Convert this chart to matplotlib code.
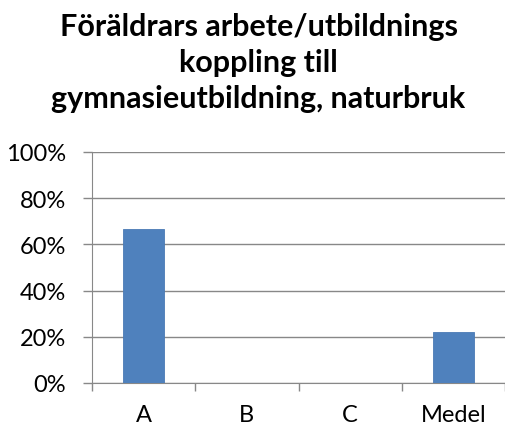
import matplotlib
matplotlib.use("Agg")
import matplotlib.pyplot as plt
from matplotlib.ticker import FuncFormatter, MultipleLocator

categories = ["A", "B", "C", "Medel"]
values = [0.667, 0.0, 0.0, 0.222]
title = "Föräldrars arbete/utbildnings\nkoppling till\ngymnasieutbildning, naturbruk"

plt.rcParams['font.family'] = ['Lato', 'DejaVu Sans']

fig = plt.figure(figsize=(5.05, 4.27), dpi=100)
ax = fig.add_axes([92 / 505, 1 - 384 / 427, 413 / 505, 231 / 427])

x = range(len(categories))
ax.bar(x, values, width=0.4, color="#4f81bd", edgecolor="#4a7ab5", linewidth=0.6, zorder=3)

ax.set_xlim(-0.5, len(categories) - 0.5)
ax.set_ylim(0, 1)
ax.yaxis.set_major_locator(MultipleLocator(0.2))
ax.yaxis.set_major_formatter(FuncFormatter(lambda v, p: "%d%%" % round(v * 100)))
ax.set_xticks(x)
ax.set_xticklabels(categories)
ax.set_xticks([i - 0.5 for i in range(len(categories) + 1)], minor=True)
ax.tick_params(axis="x", which="major", length=0, pad=15, labelsize=17)
ax.tick_params(axis="x", which="minor", length=6, color="#888888", width=1)
ax.tick_params(axis="y", length=6.5, color="#888888", width=1, labelsize=17, pad=12)

ax.grid(axis="y", color="#888888", linewidth=1, zorder=0)
for side in ["top", "right"]:
    ax.spines[side].set_visible(False)
ax.spines["left"].set_color("#888888")
ax.spines["bottom"].set_color("#888888")

fig.text(0.512, 1 - 13 / 427, title, ha="center", va="top", fontsize=22,
         fontweight="bold", linespacing=1.34)

fig.savefig("out.png", dpi=100)
